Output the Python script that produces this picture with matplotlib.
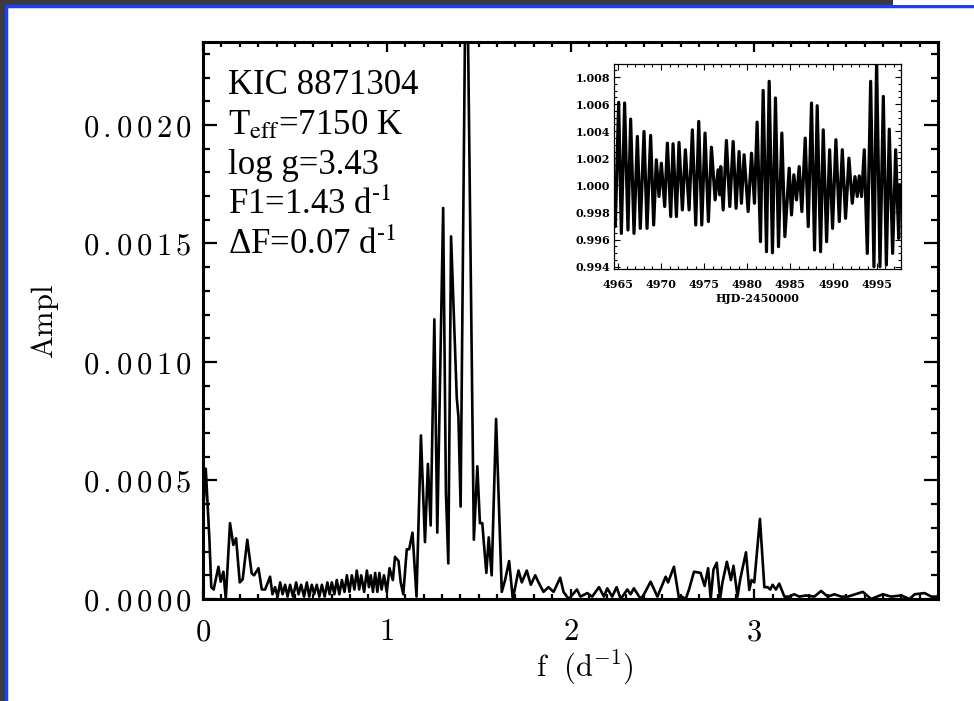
import matplotlib
matplotlib.use("Agg")
import matplotlib.pyplot as plt
from matplotlib.patches import Rectangle
from matplotlib.ticker import MultipleLocator, FixedLocator, FuncFormatter

plt.rcParams['mathtext.fontset'] = 'cm'

# amplitude spectrum (peaks and troughs)
freq = [0.0, 0.015, 0.035, 0.045, 0.058, 0.084, 0.096, 0.111, 0.124, 0.147,
        0.165, 0.18, 0.2, 0.216, 0.241, 0.265, 0.278, 0.302, 0.32, 0.338,
        0.365, 0.378, 0.392, 0.406, 0.42, 0.433, 0.447, 0.46, 0.474, 0.49,
        0.507, 0.52, 0.534, 0.55, 0.565, 0.578, 0.592, 0.605, 0.619, 0.633,
        0.647, 0.662, 0.677, 0.689, 0.701, 0.715, 0.728, 0.742, 0.756, 0.77,
        0.783, 0.797, 0.81, 0.824, 0.837, 0.85, 0.861, 0.877, 0.892, 0.903,
        0.913, 0.925, 0.937, 0.949, 0.96, 0.972, 0.985, 1.0, 1.015, 1.033,
        1.045, 1.064, 1.076, 1.09, 1.109, 1.122, 1.14, 1.162, 1.186, 1.208,
        1.224, 1.239, 1.259, 1.275, 1.307, 1.322, 1.335, 1.35, 1.381, 1.39,
        1.402, 1.433, 1.474, 1.493, 1.507, 1.52, 1.527, 1.542, 1.555, 1.571,
        1.595, 1.626, 1.644, 1.666, 1.686, 1.717, 1.735, 1.762, 1.784, 1.808,
        1.826, 1.853, 1.88, 1.908, 1.944, 1.962, 1.99, 2.035, 2.054, 2.091,
        2.118, 2.155, 2.182, 2.2, 2.227, 2.251, 2.273, 2.309, 2.327, 2.345,
        2.382, 2.4, 2.436, 2.473, 2.518, 2.531, 2.563, 2.591, 2.605, 2.627,
        2.645, 2.672, 2.708, 2.73, 2.749, 2.763, 2.778, 2.796, 2.814, 2.827,
        2.851, 2.873, 2.887, 2.909, 2.924, 2.955, 2.973, 2.985, 3.0, 3.031,
        3.055, 3.073, 3.087, 3.1, 3.118, 3.136, 3.164, 3.191, 3.218, 3.245,
        3.282, 3.327, 3.364, 3.4, 3.436, 3.473, 3.509, 3.591, 3.636, 3.7,
        3.745, 3.8, 3.845, 3.873, 3.927, 3.964, 4.0]
ampl = [0.00035, 0.00055, 0.00025, 0.00005, 0.00004, 0.000136, 0.000073, 0.000115, 0.0, 0.00032,
        0.000228, 0.000256, 0.00007, 0.000083, 0.00025, 0.000108, 0.0001, 0.00013, 0.00004, 0.00004,
        0.000094, 0.00002, 0.00005, 0.00001, 0.00007, 0.00002, 0.00006, 0.00001, 0.00006, 0.00001,
        0.00007, 0.00002, 0.00006, 0.00001, 0.00007, 0.00001, 0.00006, 0.00002, 0.00006, 0.00001,
        0.00006, 0.00001, 0.00007, 0.00002, 0.00007, 0.00002, 0.00008, 0.00002, 0.00008, 0.00003,
        0.0001, 0.00003, 0.0001, 0.00004, 0.00012, 0.00004, 0.0001, 0.00003, 0.00012, 0.00005,
        0.0001, 0.00003, 0.00011, 0.00003, 0.00011, 0.00004, 0.0001, 0.00003, 0.00013, 0.00008,
        0.000178, 0.00016, 0.00007, 0.00002, 0.00021, 0.00021, 0.00028, 0.00001, 0.00069, 0.00024,
        0.00057, 0.00031, 0.00118, 0.00028, 0.00165, 0.00045, 0.00015, 0.00153, 0.00085, 0.00077,
        0.00039, 0.0030, 0.00025, 0.00056, 0.00032, 0.00032, 0.00025, 0.00011, 0.00026, 0.0001,
        0.00076, 0.00003, 0.00008, 0.00016, 0.0, 0.00012, 0.00007, 0.00012, 0.00006, 0.0001,
        0.00007, 0.00003, 0.00005, 0.00003, 0.00009, 0.00003, 0.0, 0.00004, 0.00001, 0.000025,
        0.00001, 0.00005, 0.00001, 0.000045, 0.00001, 0.00005, 0.0, 0.00004, 0.00002, 0.000045,
        0.0, 0.00002, 0.000073, 0.00001, 0.000094, 0.00007, 0.000136, 0.0, 0.00001, 0.0,
        0.00004, 0.000115, 0.00011, 0.000055, 0.00013, 0.0, 0.000124, 0.000153, 0.0, 0.00007,
        0.000157, 0.00008, 0.00014, 0.00001, 0.000085, 0.000197, 0.000038, 0.00008, 0.00007, 0.000338,
        0.00005, 0.00005, 0.00004, 0.00006, 0.00004, 0.000065, 0.00001, 0.00001, 0.00002, 0.00001,
        0.000015, 0.00001, 0.000034, 0.00001, 0.00002, 0.00001, 0.00001, 0.00003, 0.0, 0.00002,
        0.00001, 0.000015, 0.0, 0.00002, 0.000025, 0.00001, 0.00001]
freq_ticks = [0, 1, 2, 3]

# light curve extrema
hjd = [4964.54, 4964.69, 4965.08, 4965.39, 4965.77, 4966.16, 4966.47, 4966.86, 4967.25, 4967.59,
       4968.02, 4968.37, 4968.79, 4969.14, 4969.45, 4969.76, 4970.03, 4970.42, 4970.73, 4971.12,
       4971.39, 4971.78, 4972.08, 4972.47, 4972.82, 4973.25, 4973.63, 4974.02, 4974.37, 4974.72,
       4975.10, 4975.49, 4975.84, 4976.27, 4976.61, 4976.81, 4976.92, 4977.20, 4977.58, 4977.97,
       4978.36, 4978.70, 4979.05, 4979.32, 4979.63, 4980.10, 4980.49, 4980.83, 4981.14, 4981.53,
       4981.84, 4982.23, 4982.54, 4982.92, 4983.27, 4983.62, 4984.01, 4984.36, 4984.86, 4985.13,
       4985.40, 4985.71, 4986.02, 4986.33, 4986.72, 4987.07, 4987.45, 4987.80, 4988.11, 4988.50,
       4988.81, 4989.20, 4989.55, 4989.89, 4990.28, 4990.67, 4991.02, 4991.40, 4991.79, 4992.18,
       4992.49, 4992.76, 4992.99, 4993.26, 4993.57, 4993.92, 4994.31, 4994.69, 4995.00, 4995.39,
       4995.78, 4996.13, 4996.47, 4996.86, 4997.21, 4997.56, 4997.71]
flux = [0.99868, 0.99696, 1.00613, 0.99646, 1.00608, 0.99671, 1.00489, 0.99646, 1.00361, 0.99683,
        1.00398, 0.99683, 1.00369, 0.99708, 1.00189, 0.99918, 1.00164, 0.99844, 1.00312, 0.9977,
        1.00307, 0.9977, 1.00317, 0.99819, 1.00263, 0.99819, 1.0041, 0.99708, 1.00472, 0.99708,
        1.00386, 0.99733, 1.00282, 0.99893, 1.00115, 0.9993, 1.00139, 0.99819, 1.00332, 0.99844,
        1.00324, 0.99831, 1.0025, 0.99868, 1.00226, 0.99807, 1.00238, 0.99868, 1.00467, 0.99585,
        1.00701, 0.99511, 1.00768, 0.99503, 1.00645, 0.99548, 1.00386, 0.99622, 1.00127, 0.99782,
        1.00078, 0.99893, 1.00139, 0.99807, 1.00349, 0.99696, 1.00608, 0.99523, 1.00588, 0.99511,
        1.0041, 0.99585, 1.00263, 0.99683, 1.00337, 0.99733, 1.00263, 0.99757, 1.00201, 0.99868,
        1.00065, 0.99918, 1.0007, 0.99918, 1.00263, 0.99498, 1.00768, 0.994, 1.0092, 0.994,
        1.00657, 0.99412, 1.00415, 0.99498, 1.00263, 0.99609, 1.00004]

info_lines = ['KIC 8871304', r'T$_{\rm eff}$=7150 K', 'log g=3.43',
              'F1=1.43 d$^{\\rm \u20101}$', 'ΔF=0.07 d$^{\\rm \u20101}$']


def spaced_label(v, pos):
    # wide IDL-style digit spacing, e.g. 0.0020
    whole, frac = f'{v:.4f}'.split('.')
    return '$' + whole + r'\,.' + r'\,'.join(frac) + '$'


W, H = 974, 701
fig = plt.figure(figsize=(W / 100, H / 100), dpi=100)
fig.patch.set_facecolor('#3b3b3d')
fig.patches.append(Rectangle((6 / W, -0.01), 1.0, (H - 6) / H + 0.01, transform=fig.transFigure,
                             facecolor='white', edgecolor='#1d3ff0', lw=2.5, zorder=-5))
fig.patches.append(Rectangle((893 / W, 1 - 5 / H), 1.0, 5 / H, transform=fig.transFigure,
                             facecolor='white', edgecolor='none', zorder=-4))


def px(x0, y0, x1, y1):
    return [x0 / W, 1 - y1 / H, (x1 - x0) / W, (y1 - y0) / H]


# main amplitude spectrum
ax = fig.add_axes(px(203, 42, 938, 599))
ax.plot(freq, ampl, color='black', lw=1.9)
ax.set_xlim(0, 4)
ax.set_ylim(0, 0.00235)
ax.xaxis.set_major_locator(FixedLocator(freq_ticks))
ax.xaxis.set_minor_locator(MultipleLocator(0.1))
ax.yaxis.set_major_locator(MultipleLocator(0.0005))
ax.yaxis.set_minor_locator(MultipleLocator(0.0001))
ax.xaxis.set_major_formatter(FuncFormatter(lambda v, p: f'${v:.0f}$'))
ax.yaxis.set_major_formatter(FuncFormatter(spaced_label))
ax.tick_params(which='both', direction='in', top=True, right=True, width=1.6,
               labelsize=22, colors='black')
ax.tick_params(axis='x', which='major', length=7.5, pad=13)
ax.tick_params(axis='x', which='minor', length=3.5)
ax.tick_params(axis='y', which='major', length=10, pad=8)
ax.tick_params(axis='y', which='minor', length=5)
for s in ax.spines.values():
    s.set_linewidth(2.2)

fig.text(45 / W, 1 - 321 / H, r'$\mathrm{Ampl}$', rotation=90, fontsize=22,
         ha='center', va='center')
fig.text(585 / W, 1 - 668 / H, r'$\mathrm{f\ \ (d^{-1})}$', fontsize=22,
         ha='center', va='center')

for i, line in enumerate(info_lines):
    fig.text(228 / W, 1 - (94 + 40 * i) / H, line, fontsize=25, family='Liberation Serif',
             math_fontfamily='stix', ha='left', va='baseline')

# inset light curve
ins = fig.add_axes(px(614, 64, 901, 269))
ins.plot(hjd, flux, color='black', lw=2.3)
ins.set_xlim(4964.54, 4997.83)
ins.set_ylim(0.99383, 1.00896)
ins.xaxis.set_major_locator(MultipleLocator(5))
ins.xaxis.set_minor_locator(MultipleLocator(1))
ins.yaxis.set_major_locator(MultipleLocator(0.002))
ins.yaxis.set_minor_locator(MultipleLocator(0.0005))
ins.yaxis.set_major_formatter(FuncFormatter(lambda v, p: f'{v:.3f}'))
ins.xaxis.set_major_formatter(FuncFormatter(lambda v, p: f'{v:.0f}'))
ins.tick_params(which='both', direction='in', top=True, right=True, width=0.8,
                labelsize=8)
ins.tick_params(axis='x', pad=7)
ins.tick_params(axis='y', pad=3)
ins.tick_params(which='major', length=4)
ins.tick_params(which='minor', length=2)
for lab in ins.get_xticklabels() + ins.get_yticklabels():
    lab.set_family('DejaVu Serif')
    lab.set_fontweight('bold')
ins.set_xlabel('HJD-2450000', fontsize=8, family='DejaVu Serif', fontweight='bold',
               labelpad=2)
for s in ins.spines.values():
    s.set_linewidth(0.9)

fig.savefig('out.png', dpi=100, facecolor=fig.get_facecolor())
